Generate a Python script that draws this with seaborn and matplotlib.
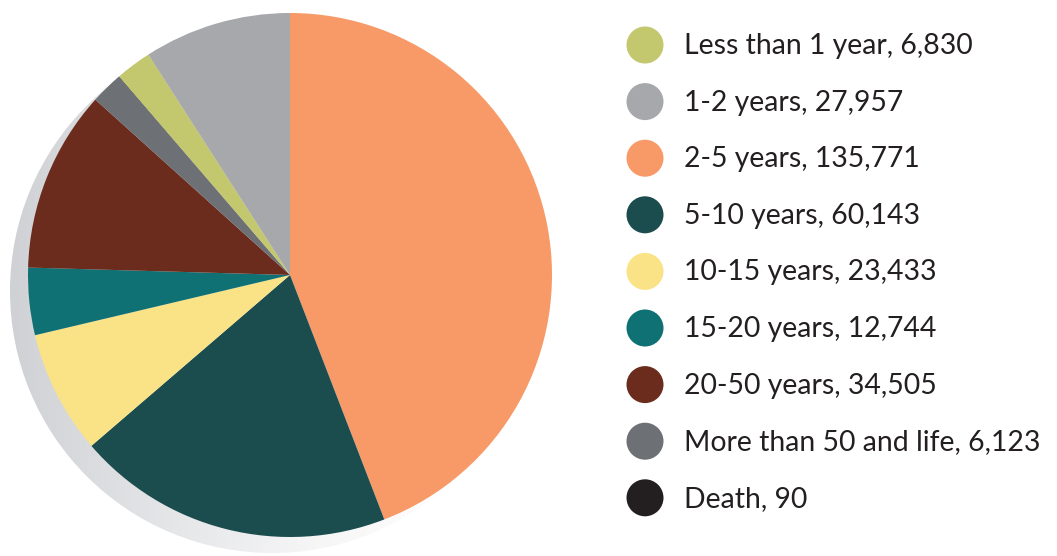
import numpy as np
import matplotlib
matplotlib.use("Agg")
import matplotlib.pyplot as plt
import seaborn as sns
from matplotlib.patches import Circle
from matplotlib.colors import LinearSegmentedColormap

sns.set_theme(style="white")
plt.rcParams['font.family'] = ['Lato', 'DejaVu Sans']

# Legend order
categories = ["Less than 1 year", "1-2 years", "2-5 years", "5-10 years", "10-15 years",
              "15-20 years", "20-50 years", "More than 50 and life", "Death"]
values = [6830, 27957, 135771, 60143, 23433, 12744, 34505, 6123, 90]
value_labels = ["6,830", "27,957", "135,771", "60,143", "23,433", "12,744", "34,505", "6,123", "90"]
colors = ["#c3c76e", "#a7a8ac", "#f79a68", "#1b4c4e", "#fae386",
          "#107175", "#6b2c1d", "#6d7075", "#231f20"]
# Clockwise order of wedges starting at 12 o'clock
pie_order = [2, 3, 4, 5, 6, 7, 8, 0, 1]

W, H = 1057, 556
fig = plt.figure(figsize=(W / 100, H / 100), dpi=100)

# Pie axes in pixel geometry
cx, cy, R = 290, 275, 262
ax_w_px = 590
ax = fig.add_axes([0, 0, ax_w_px / W, 1])
x0 = (0 - cx) / R
x1 = (ax_w_px - cx) / R
y1 = cy / R
y0 = (cy - H) / R

# Shadow: offset circle with horizontal gradient
sx, sy = -18 / R, -16 / R
cmap = LinearSegmentedColormap.from_list("sh", ["#cfd1d4", "#e4e5e7", "#f6f6f7", "#ffffff"])
grad = np.linspace(0, 1, 256).reshape(1, -1)
im = ax.imshow(grad, cmap=cmap, extent=[sx - 1, sx + 0.75, sy - 1, sy + 1],
               aspect='auto', zorder=0)
clip = Circle((sx, sy), 1.0, transform=ax.transData)
im.set_clip_path(clip)

pie_vals = [values[i] for i in pie_order]
pie_cols = [colors[i] for i in pie_order]
ax.pie(pie_vals, colors=pie_cols, startangle=90, counterclock=False, radius=1.0,
       wedgeprops=dict(linewidth=0, antialiased=True))
ax.set_xlim(x0, x1)
ax.set_ylim(y0, y1)
ax.set_aspect('auto')
ax.axis('off')

# Legend drawn in pixel coordinates
lax = fig.add_axes([0, 0, 1, 1], facecolor='none')
lax.set_xlim(0, W)
lax.set_ylim(H, 0)
lax.axis('off')
row_y = 45
step = 56.6
for i, (cat, lab, col) in enumerate(zip(categories, value_labels, colors)):
    y = row_y + i * step
    lax.add_patch(Circle((645, y), 18.5, color=col, lw=0))
    lax.text(684, y + 1, f"{cat}, {lab}", fontsize=20.4, color="#231f20",
             va='center', ha='left')

fig.savefig("out.png", dpi=100, facecolor='white')
